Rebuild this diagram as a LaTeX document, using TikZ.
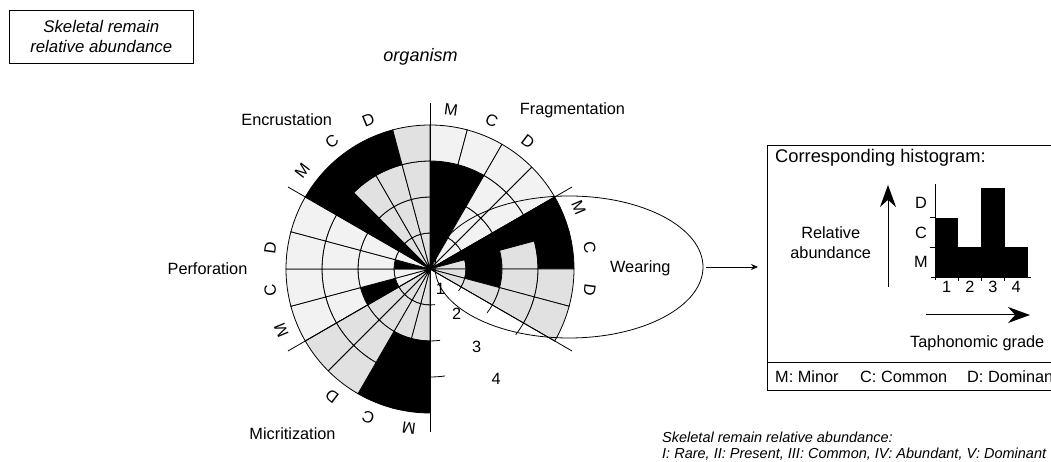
\documentclass[tikz,border=0pt]{standalone}
\usepackage{fontspec}
\setmainfont{Liberation Sans}
\usepackage{xcolor}
\usepackage{tikz}
\usetikzlibrary{arrows.meta, positioning, shapes.geometric, calc}
\definecolor{celllight}{RGB}{242, 242, 242}
\definecolor{cellgray}{RGB}{225, 225, 225}
\definecolor{cellblack}{RGB}{0, 0, 0}
\newcommand{\lblfont}{\fontsize{16.3}{20}\selectfont}
\newcommand{\notefont}{\fontsize{14.5}{15.5}\selectfont\itshape}

\begin{document}
\begin{tikzpicture}[x=1pt, y=1pt,
    cell/.style={draw=black, line width=0.8pt},
    axisline/.style={draw=black, line width=0.8pt},
    catlabel/.style={font=\lblfont, inner sep=0pt},
    gradelabel/.style={font=\lblfont, inner sep=0pt},
    abundlabel/.style={font=\lblfont, inner sep=0pt},
    legendbox/.style={rectangle, draw=black, line width=0.8pt, minimum width=183.5pt, minimum height=53.5pt, align=center, font=\fontsize{16.8}{20}\selectfont\itshape},
    zonestyle/.style={ellipse, draw=black, line width=0.8pt, minimum width=268pt, minimum height=142pt, inner sep=0pt},
    framestyle/.style={rectangle, draw=black, line width=0.8pt, minimum width=300pt, minimum height=245.5pt, inner sep=0pt},
    bigarrow/.style={-{Stealth[length=22pt, width=16pt]}, line width=1pt},
    smallarrow/.style={-{Stealth[length=7pt, width=6pt]}, line width=0.8pt}
]
    \useasboundingbox (0,0) rectangle (1051,462);

    % Title box and labels
    \node[legendbox] (abundbox) at (101.25,425.25) {Skeletal remain\\relative abundance};
    \node[catlabel, font=\fontsize{18}{20}\selectfont\itshape] (orglbl) at (420.5,404.7) {organism};

    % Rose chart
    \begin{scope}[shift={(430,193)}]
        \foreach \a/\ca/\cb/\cc/\cd in {
            90/cellblack/cellblack/cellblack/celllight,
            75/cellblack/cellblack/cellblack/celllight,
            60/celllight/celllight/celllight/celllight,
            45/celllight/celllight/celllight/celllight,
            30/cellblack/cellblack/cellblack/cellblack,
            15/cellgray/cellblack/cellgray/cellblack,
            0/cellgray/cellblack/cellgray/cellgray,
            -15/cellgray/cellgray/cellgray/cellgray,
            150/cellblack/cellblack/cellblack/cellblack,
            135/cellgray/cellgray/cellgray/cellblack,
            120/cellgray/cellgray/cellgray/cellblack,
            105/cellgray/cellgray/cellgray/cellgray,
            210/celllight/cellblack/celllight/celllight,
            195/celllight/celllight/celllight/celllight,
            180/cellblack/celllight/celllight/celllight,
            165/celllight/celllight/celllight/celllight,
            270/cellgray/cellgray/cellblack/cellblack,
            255/cellgray/cellgray/cellblack/cellblack,
            240/cellgray/cellgray/cellgray/cellgray,
            225/cellgray/cellgray/cellgray/cellgray}
        {
            \foreach \r/\c in {1/\ca, 2/\cb, 3/\cc, 4/\cd} {
                \pgfmathsetmacro{\rin}{max(36*(\r-1), 0.01)}
                \pgfmathsetmacro{\rout}{36*\r}
                \filldraw[cell, fill=\c] (\a:\rin) arc[start angle=\a, end angle=\a-15, radius=\rin]
                    -- (\a-15:\rout) arc[start angle=\a-15, end angle=\a, radius=\rout] -- cycle;
            }
        }
        % separators and grade ticks
        \foreach \ang in {30, 150, 210, -30}
            \draw[axisline] (0,0) -- (\ang:164);
        \draw[axisline] (90:166) -- (270:163);
        \foreach \r in {36, 72, 108} {
            \draw[axisline] (-30:\r) arc[start angle=-30, end angle=-37.5, radius=\r];
            \draw[axisline] (-90:\r) arc[start angle=-90, end angle=-82, radius=\r];
        }
        % abundance letters
        \foreach \st in {90, 30, 150, 210, 270}
            \foreach \lab [count=\k] in {M, C, D} {
                \pgfmathsetmacro{\ang}{\st-15*\k+7.5}
                \node[abundlabel, rotate=\ang-90] at (\ang:161) {\lab};
            }
        % grades
        \node[gradelabel] (grade1) at (-62:22) {1};
        \node[gradelabel] (grade2) at (-59.5:52.5) {2};
        \node[gradelabel] (grade3) at (-59:90.5) {3};
        \node[gradelabel] (grade4) at (-59:128.5) {4};
    \end{scope}

    \node[catlabel] (fraglbl) at (572.5,351.3) {Fragmentation};
    \node[catlabel] (enclbl) at (286.7,342.7) {Encrustation};
    \node[catlabel] (perflbl) at (207.5,193) {Perforation};
    \node[catlabel] (micrlbl) at (292.5,28.7) {Micritization};

    % Wearing zone
    \node[zonestyle] (wearzone) at (569,195) {};
    \node[catlabel] (wearlbl) at (640.3,194) {Wearing};

    % Histogram panel
    \node[framestyle, anchor=north west] (histbox) at (767,317) {};
    \draw[axisline] (histbox.west |- {(0,100)}) -- (histbox.east |- {(0,100)});
    \node[catlabel, anchor=west, font=\fontsize{18.3}{20}\selectfont] (histtitle) at (775,304.5) {Corresponding histogram:};
    \node[catlabel, align=center] (rellbl) at (830.7,219) {Relative\\abundance};
    \coordinate (vbase) at (888,175.3);
    \coordinate (vtop) at (888,277);
    \draw[bigarrow] (vbase) -- (vtop);
    \foreach \i/\h in {1/2, 2/1, 3/3, 4/1}
        \fill[cellblack] (935+23.2*\i-23.2,185) rectangle ++(23.2,29.6*\h);
    \draw[axisline] (935,182) -- (935,278);
    \draw[axisline] (931,185) -- (1031,185);
    \foreach \h in {1, 2}
        \draw[axisline] (930,185+29.6*\h) -- (935,185+29.6*\h);
    \foreach \i in {1, 2, 3}
        \draw[axisline] (935+23.2*\i,185) -- (935+23.2*\i,181);
    \foreach \lab [count=\k] in {M, C, D}
        \node[abundlabel] at (921,170.2+29.6*\k) {\lab};
    \foreach \k in {1, 2, 3, 4}
        \node[gradelabel] at (923.4+23.2*\k,175) {\k};
    \coordinate (hbase) at (926,147);
    \coordinate (htip) at (1030,147);
    \draw[bigarrow] (hbase) -- (htip);
    \node[catlabel, anchor=west] (taphlbl) at (910,118.7) {Taphonomic grade};
    \node[catlabel, anchor=west] (keyM) at (775,85) {M: Minor};
    \node[catlabel, anchor=west] (keyC) at (860,85) {C: Common};
    \node[catlabel, anchor=west] (keyD) at (967,85) {D: Dominant};

    % Edges
    \draw[smallarrow, shorten <=3pt, shorten >=9pt] (wearzone.east) -- (wearzone.east -| histbox.west);

    % Footnote
    \node[anchor=west, align=left, inner sep=0pt, font=\notefont] (footnote) at (662,16)
        {Skeletal remain relative abundance:\\I: Rare, II: Present, III: Common, IV: Abundant, V: Dominant};
\end{tikzpicture}
\end{document}
